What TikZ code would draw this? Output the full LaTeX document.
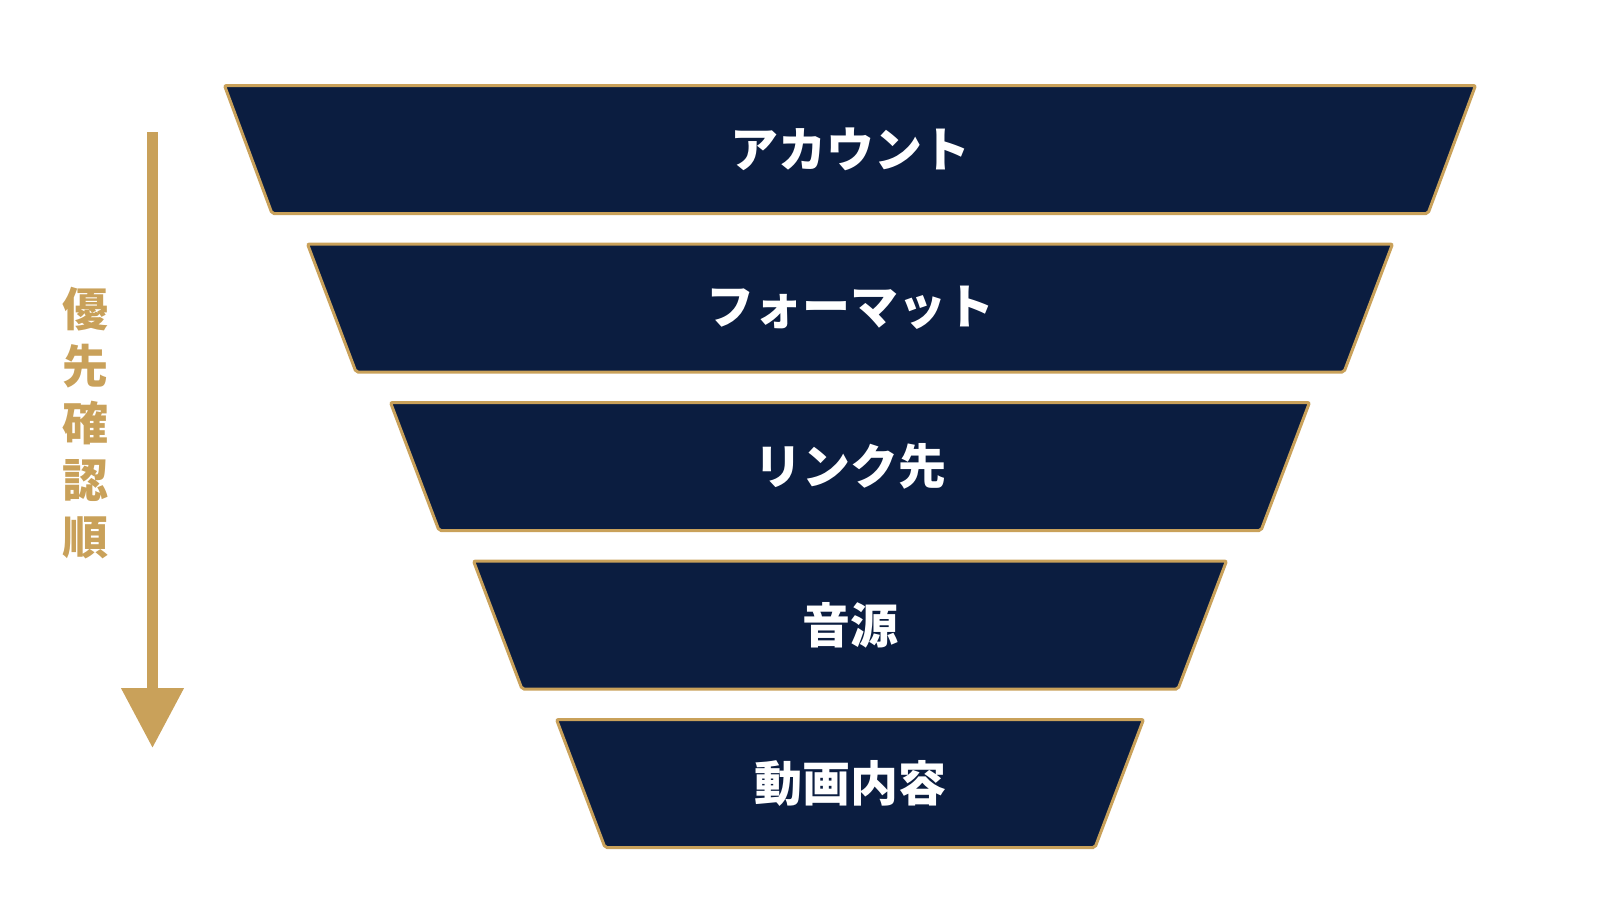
\documentclass[tikz,border=0pt]{standalone}
\usepackage{fontspec}
\usepackage{tikz}
\usepackage{xcolor}
\usetikzlibrary{arrows.meta}
\newfontfamily\jpfont{Noto Sans CJK JP}
\definecolor{navy-a}{HTML}{0B1D40}
\definecolor{gold-a}{HTML}{C9A15A}

\begin{document}
\begin{tikzpicture}
[
x=1pt, y=-1pt,
layer-a/.style={draw=gold-a, fill=navy-a, line width=3pt, rounded corners=2pt},
text-a/.style={text=white, inner sep=0pt, font=\jpfont\bfseries\fontsize{48}{58}\selectfont},
text-b/.style={text=gold-a, inner sep=0pt, align=center, font=\jpfont\bfseries\fontsize{46}{57}\selectfont},
arrow-a/.style={draw=gold-a, line width=11pt, -{Triangle[width=60pt, length=60pt]}}
]
\useasboundingbox (0,0) rectangle (1600,900);

% funnel layers
\draw[layer-a] (224.5,85.5)  -- (1475.5,85.5)  -- (1428,213.5) -- (272,213.5) -- cycle;
\draw[layer-a] (307.5,244)   -- (1392.5,244)   -- (1344,372)   -- (356,372)   -- cycle;
\draw[layer-a] (390.5,402.5) -- (1309.5,402.5) -- (1261,530.5) -- (439,530.5) -- cycle;
\draw[layer-a] (473.5,561)   -- (1226.5,561)   -- (1178,689)   -- (522,689)   -- cycle;
\draw[layer-a] (556.5,719.5) -- (1143.5,719.5) -- (1095,847.5) -- (605,847.5) -- cycle;

\node (layer-1) [text-a] at (850,149.5) {アカウント};
\node (layer-2) [text-a] at (850,308)   {フォーマット};
\node (layer-3) [text-a] at (850,466.5) {リンク先};
\node (layer-4) [text-a] at (850,625)   {音源};
\node (layer-5) [text-a] at (850,783.5) {動画内容};

% priority arrow
\coordinate (arrow-top) at (152.5,132);
\coordinate (arrow-end) at (152.5,748);
\draw[arrow-a] (arrow-top) -- (arrow-end);
\node (order) [text-b] at (85,423.5) {優\\先\\確\\認\\順};
\end{tikzpicture}
\end{document}
